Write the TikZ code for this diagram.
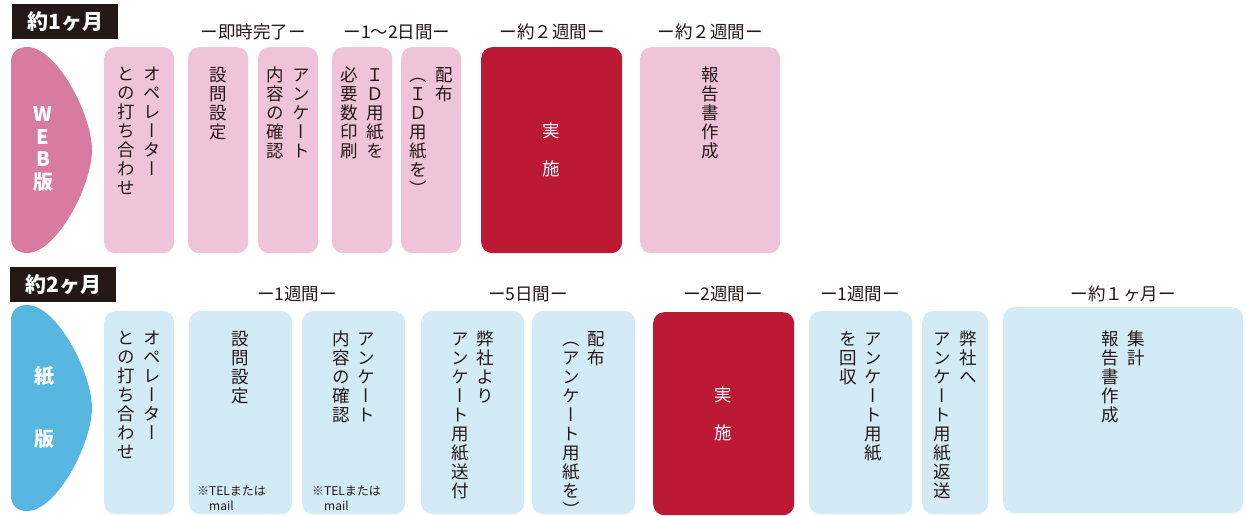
\documentclass[tikz,border=0pt]{standalone}
\usepackage{fontspec}
\newfontfamily\jp{Noto Sans CJK JP}
\newfontfamily\jptate[RawFeature=+vert]{Noto Sans CJK JP}
\usetikzlibrary{positioning}

\definecolor{webpink}{HTML}{D77BA0}
\definecolor{webpale}{HTML}{F0C4D8}
\definecolor{paperblue}{HTML}{57B7E1}
\definecolor{paperpale}{HTML}{D3EAF7}
\definecolor{runred}{HTML}{BC1935}
\definecolor{inkblack}{HTML}{231815}

% vertical writing: one character per line, columns right to left
\newcommand\tatechar[1]{\hbox to 1em{\hss#1\hss}}
\def\tatego#1{\ifx\tatestop#1\else\tatechar{#1}\expandafter\tatego\fi}
\newcommand\tatecol[1]{\vtop{\tatego#1\tatestop}}
\newcommand\tatetwo[2]{\tatecol{#2}\hspace{0.45em}\tatecol{#1}}

\begin{document}
\begin{tikzpicture}[x=1pt,y=-1pt,
    webbox/.style={fill=webpale,rounded corners=11pt,minimum height=206pt,anchor=north west,inner sep=0pt},
    paperbox/.style={fill=paperpale,rounded corners=11pt,minimum height=203pt,anchor=north west,inner sep=0pt},
    runbox/.style={fill=runred,rounded corners=11pt,anchor=north west,inner sep=0pt},
    periodtag/.style={fill=inkblack,text=white,font=\jp\bfseries\fontsize{21}{24}\selectfont,
                      minimum width=106pt,minimum height=35pt,inner sep=0pt,anchor=north west},
    sidelabel/.style={text=white,align=center,inner sep=0pt},
    tate/.style={font=\jptate\fontsize{17.5}{19}\selectfont,text=inkblack,inner sep=0pt},
    dur/.style={font=\jp\fontsize{17.5}{20}\selectfont,text=inkblack,inner sep=0pt},
    runtext/.style={text=white,font=\jp\fontsize{17.5}{38}\selectfont,align=center,inner sep=0pt},
    note/.style={font=\jp\fontsize{12}{15}\selectfont,text=inkblack,align=left,inner sep=0pt,anchor=north west}]
  \useasboundingbox (0,0) rectangle (1247,516);

  % WEB row
  \node[periodtag] (tag1) at (12,4) {約1ヶ月};
  \fill[webpink] (11,62) .. controls (11,53) and (17,47) .. (27,47)
    .. controls (57,47) and (92,115) .. (92,150)
    .. controls (92,185) and (57,253) .. (27,253)
    .. controls (17,253) and (11,247) .. (11,238) -- cycle;
  \node[sidelabel,font=\jp\bfseries\fontsize{20}{22.5}\selectfont] (web) at (43,149) {W\\E\\B\\版};

  \node[webbox,minimum width=70pt] (t1) at (104,47) {};
  \node[webbox,minimum width=60pt] (t2) at (188,47) {};
  \node[webbox,minimum width=60pt] (t3) at (258,47) {};
  \node[webbox,minimum width=60pt] (t4) at (332,47) {};
  \node[webbox,minimum width=60pt] (t5) at (401,47) {};
  \node[runbox,minimum width=141pt,minimum height=206pt] (t6) at (481,47) {};
  \node[webbox,minimum width=140pt] (t7) at (640,47) {};

  \node[tate,below=20pt of t1.north] (t1text) {\tatetwo{オペレーター}{との打ち合わせ}};
  \node[tate,below=20pt of t2.north] (t2text) {\tatecol{設問設定}};
  \node[tate,below=20pt of t3.north] (t3text) {\tatetwo{アンケート}{内容の確認}};
  \node[tate,below=20pt of t4.north] (t4text) {\tatetwo{ＩＤ用紙を}{必要数印刷}};
  \node[tate,below=20pt of t5.north] (t5text) {\tatetwo{配布}{（ＩＤ用紙を）}};
  \node[runtext] (t6text) at (t6.center) {実\\施};
  \node[tate,below=20pt of t7.north] (t7text) {\tatecol{報告書作成}};

  \node[dur] (d1) at (253,32) {ー即時完了ー};
  \node[dur] (d2) at (397,32) {ー1〜2日間ー};
  \node[dur] (d3) at (552,32) {ー約２週間ー};
  \node[dur] (d4) at (710,32) {ー約２週間ー};

  % paper row
  \node[periodtag] (tag2) at (10,267) {約2ヶ月};
  \fill[paperblue] (11,320) .. controls (11,311) and (17,305) .. (27,305)
    .. controls (57,305) and (92,373) .. (92,408)
    .. controls (92,443) and (57,511) .. (27,511)
    .. controls (17,511) and (11,505) .. (11,496) -- cycle;
  \node[sidelabel,font=\jp\bfseries\fontsize{20}{63}\selectfont] (paper) at (44,407) {紙\\版};

  \node[paperbox,minimum width=70pt] (b1) at (104,311) {};
  \node[paperbox,minimum width=103pt] (b2) at (189,311) {};
  \node[paperbox,minimum width=103pt] (b3) at (302,311) {};
  \node[paperbox,minimum width=103pt] (b4) at (421,311) {};
  \node[paperbox,minimum width=103pt] (b5) at (532,311) {};
  \node[runbox,minimum width=141pt,minimum height=203pt] (b6) at (653,312) {};
  \node[paperbox,minimum width=103pt] (b7) at (809,311) {};
  \node[paperbox,minimum width=66pt] (b8) at (922,311) {};
  \node[paperbox,minimum width=240pt,minimum height=206pt] (b9) at (1003,307) {};

  \node[tate,below=20pt of b1.north] (b1text) {\tatetwo{オペレーター}{との打ち合わせ}};
  \node[tate,below=20pt of b2.north] (b2text) {\tatecol{設問設定}};
  \node[tate,below=20pt of b3.north] (b3text) {\tatetwo{アンケート}{内容の確認}};
  \node[tate,below=20pt of b4.north] (b4text) {\tatetwo{弊社より}{アンケート用紙送付}};
  \node[tate,below=20pt of b5.north] (b5text) {\tatetwo{配布}{（アンケート用紙を）}};
  \node[runtext] (b6text) at (b6.center) {実\\施};
  \node[tate,below=20pt of b7.north] (b7text) {\tatetwo{アンケート用紙}{を回収}};
  \node[tate,below=20pt of b8.north] (b8text) {\tatetwo{弊社へ}{アンケート用紙返送}};
  \node[tate,below=24pt of b9.north] (b9text) {\tatetwo{集計}{報告書作成}};

  \node[note] (b2note) at (197,486) {※TELまたは\\\hspace*{1em}mail};
  \node[note] (b3note) at (312,486) {※TELまたは\\\hspace*{1em}mail};

  \node[dur] (d5) at (297,294) {ー1週間ー};
  \node[dur] (d6) at (528,294) {ー5日間ー};
  \node[dur] (d7) at (723,294) {ー2週間ー};
  \node[dur] (d8) at (860,294) {ー1週間ー};
  \node[dur] (d9) at (1123,294) {ー約１ヶ月ー};
\end{tikzpicture}
\end{document}
